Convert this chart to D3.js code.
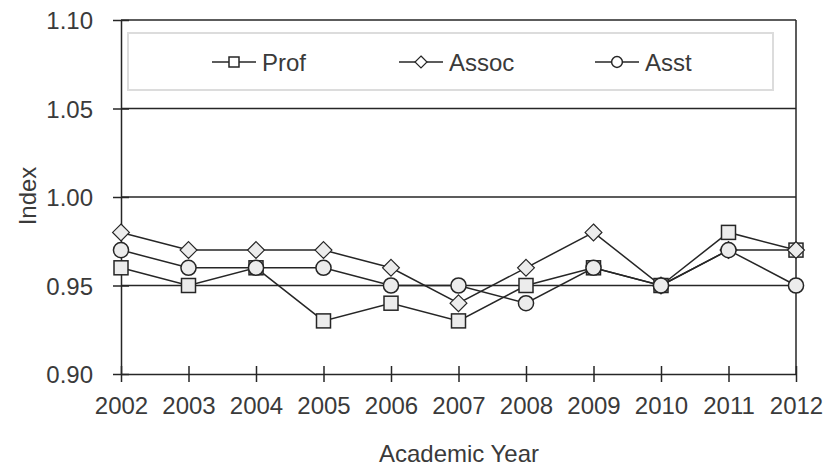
<!DOCTYPE html>
<html>
<head>
<meta charset="utf-8">
<script src="https://cdn.jsdelivr.net/npm/d3@7"></script>
<style>
  html, body { margin: 0; padding: 0; background: #fff; }
  svg { display: block; }
  text { font-family: "Liberation Sans", Arial, sans-serif; fill: #3a3a3a; }
</style>
</head>
<body>
<svg id="chart" width="836" height="470"></svg>
<script>
const years = [2002, 2003, 2004, 2005, 2006, 2007, 2008, 2009, 2010, 2011, 2012];
const prof  = [0.96, 0.95, 0.96, 0.93, 0.94, 0.93, 0.95, 0.96, 0.95, 0.98, 0.97];
const assoc = [0.98, 0.97, 0.97, 0.97, 0.96, 0.94, 0.96, 0.98, 0.95, 0.97, 0.97];
const asst  = [0.97, 0.96, 0.96, 0.96, 0.95, 0.95, 0.94, 0.96, 0.95, 0.97, 0.95];
const seriesNames = ["Prof", "Assoc", "Asst"];
const seriesShapes = ["square", "diamond", "circle"];
const yTicks = [0.90, 0.95, 1.00, 1.05, 1.10];
const xTitle = "Academic Year";
const yTitle = "Index";

const series = [prof, assoc, asst].map((vals, i) => ({
  name: seriesNames[i], shape: seriesShapes[i],
  values: vals.map((v, j) => ({ year: years[j], value: v }))
}));

const svg = d3.select("#chart");
const L = 121, R = 796, T = 20, B = 374;
const x = d3.scaleLinear().domain([2002, 2012]).range([L, R]);
const y = d3.scaleLinear().domain([0.90, 1.10]).range([B, T]);
const ink = "#262626";
const txt = "#3a3a3a";

// gridlines
svg.append("g").selectAll("line").data(yTicks.filter(t => t > 0.9))
  .join("line")
  .attr("x1", L).attr("x2", R)
  .attr("y1", d => y(d)).attr("y2", d => y(d))
  .attr("stroke", ink).attr("stroke-width", 1.5);

// right border
svg.append("line").attr("x1", R).attr("x2", R).attr("y1", T).attr("y2", B)
  .attr("stroke", ink).attr("stroke-width", 1.5);

// x axis
const xAxis = svg.append("g").attr("transform", `translate(0,${B})`)
  .call(d3.axisBottom(x).tickValues(years).tickFormat(d3.format("d")).tickSizeOuter(0));
xAxis.select(".domain").attr("stroke", ink).attr("stroke-width", 1.5);
xAxis.selectAll(".tick line").attr("y1", -8).attr("y2", 8).attr("stroke", ink).attr("stroke-width", 1.5);
xAxis.selectAll(".tick text").attr("y", 40).attr("dy", 0)
  .style("font-size", "24px").style("font-family", "Liberation Sans, Arial, sans-serif").attr("fill", txt);

// y axis
const yAxis = svg.append("g").attr("transform", `translate(${L},0)`)
  .call(d3.axisLeft(y).tickValues(yTicks).tickFormat(d3.format(".2f")).tickSizeOuter(0));
yAxis.select(".domain").attr("stroke", ink).attr("stroke-width", 1.5);
yAxis.selectAll(".tick line").attr("x1", -8).attr("x2", 8).attr("stroke", ink).attr("stroke-width", 1.5);
yAxis.selectAll(".tick text").attr("x", -28).attr("dy", "0.36em")
  .style("font-size", "24px").style("font-family", "Liberation Sans, Arial, sans-serif").attr("fill", txt);

// titles
svg.append("text").attr("x", 459).attr("y", 462).attr("text-anchor", "middle")
  .style("font-size", "24px").text(xTitle);
svg.append("text").attr("transform", "translate(36,196) rotate(-90)").attr("text-anchor", "middle")
  .style("font-size", "24px").text(yTitle);

// legend box
svg.append("rect").attr("x", 128).attr("y", 33).attr("width", 645).attr("height", 57)
  .attr("fill", "none").attr("stroke", "#dcdcdc").attr("stroke-width", 2);

function drawMarker(g, shape, cx, cy, s, fill) {
  if (shape === "square") {
    g.append("rect").attr("x", cx - s).attr("y", cy - s).attr("width", 2 * s).attr("height", 2 * s)
      .attr("fill", fill).attr("stroke", ink).attr("stroke-width", 1.5);
  } else if (shape === "diamond") {
    const d = s * 1.2;
    g.append("path").attr("d", `M${cx},${cy - d}L${cx + d},${cy}L${cx},${cy + d}L${cx - d},${cy}Z`)
      .attr("fill", fill).attr("stroke", ink).attr("stroke-width", 1.2);
  } else {
    g.append("circle").attr("cx", cx).attr("cy", cy).attr("r", s * 1.08)
      .attr("fill", fill).attr("stroke", ink).attr("stroke-width", 1.5);
  }
}

// lines
const line = d3.line().x(d => x(d.year)).y(d => y(d.value));
series.forEach(s => {
  svg.append("path").datum(s.values).attr("d", line)
    .attr("fill", "none").attr("stroke", ink).attr("stroke-width", 1.5);
});
// markers
series.forEach(s => {
  const g = svg.append("g");
  s.values.forEach(p => drawMarker(g, s.shape, x(p.year), y(p.value), 7, "#ececec"));
});

// legend items
const legendX = [212, 399, 595];
const ly = 62;
series.forEach((s, i) => {
  const g = svg.append("g");
  const x0 = legendX[i];
  g.append("line").attr("x1", x0).attr("x2", x0 + 44).attr("y1", ly).attr("y2", ly)
    .attr("stroke", ink).attr("stroke-width", 1.5);
  drawMarker(g, s.shape, x0 + 22, ly, 5, "#fff");
  g.append("text").attr("x", x0 + 50).attr("y", ly).attr("dy", "0.36em")
    .style("font-size", "24px").text(s.name);
});
</script>
</body>
</html>
